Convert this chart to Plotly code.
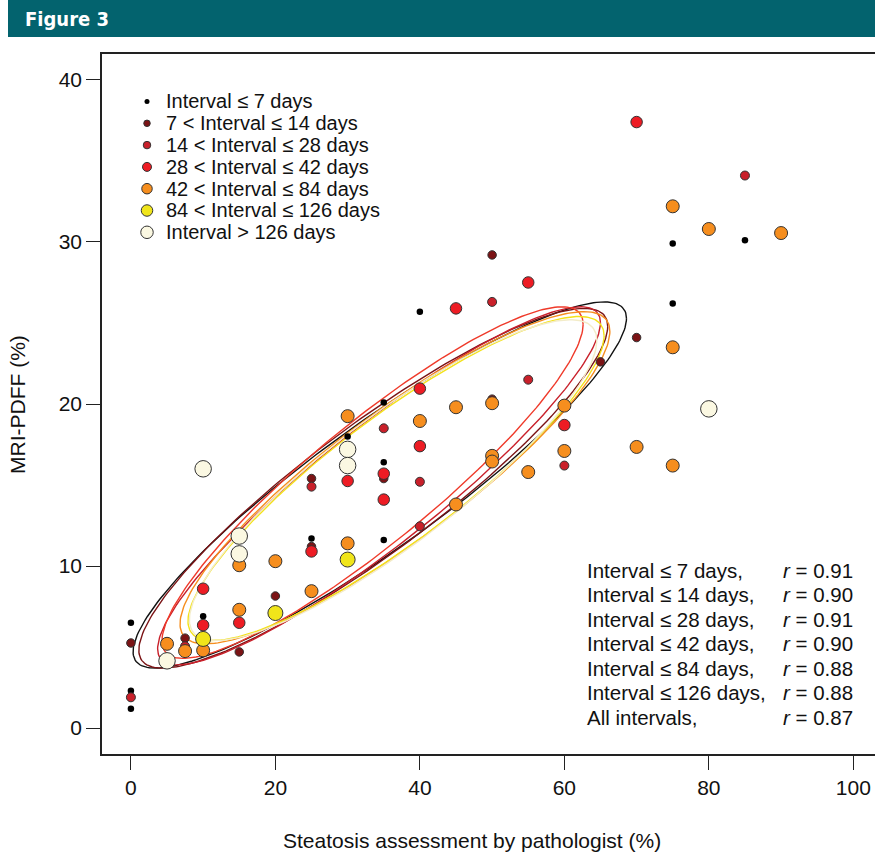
import numpy as np
import plotly.graph_objects as go

# ---------------- data ----------------
group_names = ["Interval ≤ 7 days", "7 < Interval ≤ 14 days", "14 < Interval ≤ 28 days",
               "28 < Interval ≤ 42 days", "42 < Interval ≤ 84 days", "84 < Interval ≤ 126 days",
               "Interval > 126 days"]

x_le7 = [0, 0, 0, 10, 25, 30, 35, 35, 35, 40, 75, 75, 85]
y_le7 = [6.5, 2.3, 1.2, 6.9, 11.7, 18.0, 20.1, 16.4, 11.6, 25.7, 29.9, 26.2, 30.1]

x_le14 = [0, 7.5, 15, 20, 25, 25, 35, 50, 50, 65, 70]
y_le14 = [5.25, 5.55, 4.7, 8.15, 15.4, 11.2, 15.4, 29.2, 20.3, 22.6, 24.1]

x_le28 = [0, 7.5, 25, 35, 40, 40, 50, 55, 60, 85]
y_le28 = [1.9, 5.05, 14.9, 18.5, 15.2, 12.45, 26.3, 21.5, 16.2, 34.1]

x_le42 = [10, 10, 15, 25, 30, 35, 35, 40, 40, 45, 55, 60, 70]
y_le42 = [8.6, 6.35, 6.5, 10.9, 15.25, 15.7, 14.1, 20.95, 17.4, 25.9, 27.5, 18.7, 37.4]

x_le84 = [5, 7.5, 10, 15, 15, 20, 25, 30, 30, 40, 45, 45, 50, 50, 50, 55, 60, 60, 70, 75, 75, 75, 80, 90]
y_le84 = [5.2, 4.75, 4.8, 10.05, 7.3, 10.3, 8.45, 19.25, 11.4, 18.95, 19.8, 13.8, 20.05, 16.8, 16.45,
          15.8, 19.9, 17.1, 17.35, 32.2, 23.5, 16.2, 30.8, 30.55]

x_le126 = [10, 20, 30]
y_le126 = [5.5, 7.1, 10.4]

x_gt126 = [5, 10, 15, 15, 30, 30, 80]
y_gt126 = [4.15, 16.0, 11.85, 10.75, 17.2, 16.2, 19.7]

# correlation ellipses (cumulative groups): centre, half-range in x and y
ell_cx = [34.45, 33.55, 34.35, 33.45, 36.55, 36.7, 36.3]
ell_cy = [15.0, 14.8, 14.95, 15.15, 15.45, 15.4, 15.3]
ell_ax = [34.15, 32.45, 30.65, 29.15, 29.75, 28.8, 28.2]
ell_ay = [11.3, 11.1, 11.05, 10.85, 10.25, 10.0, 9.9]

r_labels = ["Interval ≤ 7 days,", "Interval ≤ 14 days,", "Interval ≤ 28 days,", "Interval ≤ 42 days,",
            "Interval ≤ 84 days,", "Interval ≤ 126 days,", "All intervals,"]
r_values = [0.91, 0.90, 0.91, 0.90, 0.88, 0.88, 0.87]

x_ticks = [0, 20, 40, 60, 80, 100]
y_ticks = [0, 10, 20, 30, 40]

# ---------------- styles ----------------
fill_colors = ["#000000", "#7b1315", "#c9202a", "#ed1c24", "#f68e1e", "#f0e51a", "#fbf8e2"]
ellipse_colors = ["#111111", "#7b1315", "#c9202a", "#ef3a2a", "#f68e1e", "#f3e21a", "#f3ecc8"]
plot_sizes = [6.5, 8.5, 9, 11.5, 13, 15, 16.5]
legend_sizes = [5, 6.5, 7.5, 9, 10.5, 11.5, 12.5]
edge = "#333333"

groups_x = [x_le7, x_le14, x_le28, x_le42, x_le84, x_le126, x_gt126]
groups_y = [y_le7, y_le14, y_le28, y_le42, y_le84, y_le126, y_gt126]

# ---------------- geometry ----------------
FIG_W, FIG_H = 875, 852
L_PX, T_PX, R_PX, B_PX = 102, 54, 875, 754
X_RANGE = [-4, 103]
Y_RANGE = [-1.6, 41.6]
PW, PH = R_PX - L_PX, B_PX - T_PX
FONT = "Liberation Sans, Arial, Helvetica, sans-serif"


def px2x(px):
    return X_RANGE[0] + (px - L_PX) / PW * (X_RANGE[1] - X_RANGE[0])


def px2y(py):
    return Y_RANGE[1] - (py - T_PX) / PH * (Y_RANGE[1] - Y_RANGE[0])


def paper_x(px):
    return (px - L_PX) / PW


def paper_y(py):
    return (B_PX - py) / PH


fig = go.Figure()

# ---------------- correlation ellipses ----------------
t = np.linspace(0, 2 * np.pi, 241)
for i in range(len(ell_cx)):
    phi = np.arccos(r_values[i])
    ex = ell_cx[i] + ell_ax[i] * np.cos(t)
    ey = ell_cy[i] + ell_ay[i] * np.cos(t - phi)
    fig.add_trace(go.Scatter(x=ex, y=ey, mode="lines",
                             line=dict(color=ellipse_colors[i], width=1.4),
                             hoverinfo="skip", showlegend=False))

# ---------------- points ----------------
for i in range(len(groups_x)):
    lw = 0 if i == 0 else 1
    fig.add_trace(go.Scatter(x=groups_x[i], y=groups_y[i], mode="markers", name=group_names[i],
                             marker=dict(color=fill_colors[i], size=plot_sizes[i],
                                         line=dict(color=edge, width=lw)),
                             showlegend=False))

# ---------------- manual legend ----------------
LEG_MARK_PX = 147
LEG_TEXT_PX = 164
LEG_ROW0 = 101.5
LEG_STEP = 21.8
for i, name in enumerate(group_names):
    py = LEG_ROW0 + i * LEG_STEP
    fig.add_trace(go.Scatter(x=[px2x(LEG_MARK_PX)], y=[px2y(py)], mode="markers",
                             marker=dict(color=fill_colors[i], size=legend_sizes[i],
                                         line=dict(color=edge, width=0 if i == 0 else 1)),
                             hoverinfo="skip", showlegend=False))
    fig.add_annotation(x=paper_x(LEG_TEXT_PX), y=paper_y(py), xref="paper", yref="paper",
                       text=name, showarrow=False, xanchor="left", yanchor="middle",
                       font=dict(family=FONT, size=20, color="#111111"))

# ---------------- correlation text block ----------------
R_ROW0 = 570
R_STEP = 24.5
for i, (lab, rv) in enumerate(zip(r_labels, r_values)):
    py = R_ROW0 + i * R_STEP
    fig.add_annotation(x=paper_x(585), y=paper_y(py), xref="paper", yref="paper",
                       text=lab, showarrow=False, xanchor="left", yanchor="middle",
                       font=dict(family=FONT, size=20.5, color="#111111"))
    fig.add_annotation(x=paper_x(781), y=paper_y(py), xref="paper", yref="paper",
                       text=f"<i>r</i> = {rv:.2f}", showarrow=False, xanchor="left", yanchor="middle",
                       font=dict(family=FONT, size=20.5, color="#111111"))

# ---------------- header bar ----------------
fig.add_shape(type="rect", xref="paper", yref="paper",
              x0=paper_x(8), x1=paper_x(876), y0=paper_y(37), y1=paper_y(-1),
              fillcolor="#03636e", line=dict(width=0), layer="above")
fig.add_annotation(x=paper_x(23), y=paper_y(19.5), xref="paper", yref="paper",
                   text="<b>Figure 3</b>", showarrow=False, xanchor="left", yanchor="middle",
                   font=dict(family="DejaVu Sans Condensed, Liberation Sans Narrow, Liberation Sans",
                             size=20, color="white"))

# ---------------- axis titles ----------------
fig.add_annotation(x=paper_x(472), y=paper_y(840), xref="paper", yref="paper",
                   text="Steatosis assessment by pathologist (%)", showarrow=False,
                   xanchor="center", yanchor="middle", font=dict(family=FONT, size=21, color="#111111"))
fig.add_annotation(x=paper_x(17), y=paper_y(405), xref="paper", yref="paper",
                   text="MRI-PDFF (%)", showarrow=False, textangle=-90,
                   xanchor="center", yanchor="middle", font=dict(family=FONT, size=21, color="#111111"))

axis_common = dict(showgrid=False, zeroline=False, showline=True, linecolor="#222222", linewidth=1.5,
                   ticks="outside", ticklen=14, tickwidth=1.3, tickcolor="#222222",
                   tickfont=dict(family=FONT, size=21, color="#111111"))

fig.update_layout(
    width=FIG_W, height=FIG_H,
    margin=dict(l=L_PX, r=FIG_W - R_PX, t=T_PX, b=FIG_H - B_PX),
    paper_bgcolor="white", plot_bgcolor="white",
    showlegend=False,
    xaxis=dict(range=X_RANGE, tickvals=x_ticks, mirror=True, **axis_common),
    yaxis=dict(range=Y_RANGE, tickvals=y_ticks, mirror=False, **axis_common),
)

fig.write_html("out.html", config={"displayModeBar": False},
               post_script="document.body.style.margin='0';document.body.style.overflow='hidden';")
